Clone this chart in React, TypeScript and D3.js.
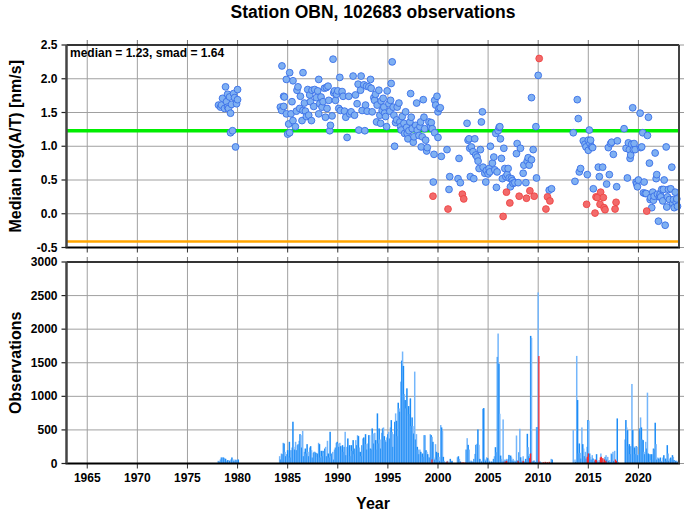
import React from "react";
import * as d3 from "d3";

// ---------- data ----------
const xTickYears = [1965, 1970, 1975, 1980, 1985, 1990, 1995, 2000, 2005, 2010, 2015, 2020];
const topTicks = [2.5, 2.0, 1.5, 1.0, 0.5, 0.0, -0.5];
const bottomTicks = [3000, 2500, 2000, 1500, 1000, 500, 0];
const medianValue = 1.23;
const smadValue = 1.64;
const lowerLine = medianValue - smadValue;

const blue1978: [number, number][] = [
  [1978.1, 1.61], [1978.3, 1.58], [1978.4, 1.61], [1978.5, 1.71], [1978.7, 1.56], [1978.8, 1.88],
  [1978.9, 1.66], [1979.0, 1.77], [1979.0, 1.58], [1979.1, 1.56], [1979.2, 1.73], [1979.3, 1.49],
  [1979.3, 1.2], [1979.4, 1.62], [1979.5, 1.23], [1979.6, 1.78], [1979.7, 1.72], [1979.8, 0.99],
  [1979.9, 1.63], [1980.0, 1.84], [1980.0, 1.69],
];

const blue1984: [number, number][] = [
  [1984.43, 2.19], [1984.87, 1.99], [1985.2, 2.09], [1985.53, 1.97], [1986.53, 2.09], [1988.1, 1.99],
  [1989.53, 2.29], [1984.6, 1.74], [1984.67, 1.73], [1984.27, 1.58], [1984.4, 1.53], [1984.6, 1.59],
  [1984.87, 1.48], [1985.1, 1.33], [1985.0, 1.18], [1985.2, 1.2], [1985.43, 1.66], [1985.33, 1.48],
  [1985.53, 1.38], [1985.77, 1.29], [1985.87, 1.52], [1985.93, 1.83], [1986.03, 1.88], [1986.2, 1.56],
  [1986.27, 1.74], [1986.43, 1.38], [1986.53, 1.53], [1986.67, 1.64], [1986.77, 1.52], [1986.87, 1.44],
  [1987.0, 1.84], [1987.1, 1.46], [1987.2, 1.76], [1987.27, 1.66], [1987.37, 1.38], [1987.43, 1.83],
  [1987.6, 1.59], [1987.7, 1.84], [1987.87, 1.72], [1988.0, 1.82], [1988.1, 1.48], [1988.2, 1.63],
  [1988.33, 1.73], [1988.43, 1.58], [1988.53, 1.66], [1988.67, 1.86], [1988.77, 1.43], [1988.87, 1.87],
  [1988.93, 1.56], [1989.03, 1.89], [1989.1, 1.68], [1989.2, 1.23], [1989.27, 1.31], [1989.43, 1.45],
  [1989.6, 1.79], [1989.67, 1.82], [1989.77, 1.68], [1989.87, 1.77], [1990.0, 1.82], [1990.1, 1.56],
  [1990.2, 2.02], [1990.27, 1.53], [1990.43, 1.81], [1990.53, 1.74], [1990.67, 1.52], [1990.8, 1.43],
  [1990.93, 1.13], [1991.1, 1.74], [1991.2, 1.48], [1991.33, 1.51], [1991.53, 2.04], [1991.67, 1.46],
  [1991.77, 1.76], [1991.93, 1.63], [1992.03, 1.92], [1992.1, 1.24], [1992.27, 1.83], [1992.33, 2.04],
  [1992.43, 1.53], [1992.6, 1.91], [1992.7, 1.23], [1992.77, 1.61], [1992.87, 1.89], [1992.93, 1.52],
];

const blue1993: [number, number][] = [
  [1993.1, 1.88], [1993.27, 1.99], [1993.33, 1.86], [1993.43, 1.51], [1993.6, 1.72], [1993.67, 1.68],
  [1993.77, 1.77], [1993.87, 1.36], [1993.93, 1.61], [1994.1, 1.83], [1994.2, 1.46], [1994.27, 1.34],
  [1994.33, 1.67], [1994.43, 1.53], [1994.53, 1.71], [1994.6, 1.58], [1994.67, 1.49], [1994.77, 1.44],
  [1994.87, 1.29], [1994.93, 1.82], [1995.1, 1.63], [1995.2, 1.52], [1995.27, 1.68], [1995.33, 1.93],
  [1995.43, 2.25], [1995.53, 1.58], [1995.6, 1.46], [1995.67, 1.0], [1995.77, 1.35], [1995.87, 1.39],
  [1995.93, 1.58], [1996.1, 1.64], [1996.2, 1.36], [1996.27, 1.29], [1996.33, 1.24], [1996.43, 1.44],
  [1996.6, 1.34], [1996.67, 1.19], [1996.77, 1.51], [1996.87, 1.28], [1996.93, 1.19], [1997.0, 1.11],
  [1997.1, 1.23], [1997.2, 1.36], [1997.27, 1.78], [1997.33, 1.43], [1997.43, 1.26], [1997.53, 1.06],
  [1997.6, 1.14], [1997.77, 1.31], [1997.87, 1.64], [1997.93, 1.24], [1998.1, 1.16], [1998.2, 1.29],
  [1998.27, 1.36], [1998.33, 0.99], [1998.43, 1.14], [1998.53, 1.69], [1998.6, 1.43], [1998.67, 1.26],
  [1998.77, 1.09], [1998.87, 0.93], [1998.93, 0.98], [1999.1, 1.36], [1999.27, 1.29], [1999.33, 1.35],
  [1999.43, 1.26], [1999.53, 0.47], [1999.6, 0.88], [1999.67, 1.68], [1999.77, 1.61], [1999.9, 1.74],
  [2000.0, 1.51], [2000.1, 1.56], [2000.23, 1.57], [1999.67, 1.2], [2000.0, 1.13], [2000.33, 0.85],
];

const blue2000: [number, number][] = [
  [2000.9, 0.95], [2001.1, 0.36], [2001.17, 0.55], [2002.0, 0.52], [2002.1, 0.82], [2002.23, 0.46],
  [2002.9, 1.34], [2003.0, 1.09], [2003.1, 1.11], [2003.17, 0.97], [2003.23, 0.55], [2003.33, 0.99],
  [2003.5, 0.92], [2003.57, 0.52], [2003.67, 1.11], [2003.77, 0.87], [2003.9, 0.84], [2004.0, 0.78],
  [2004.1, 0.67], [2004.23, 0.95], [2004.33, 1.36], [2004.43, 1.51], [2004.5, 0.69], [2004.67, 0.6],
  [2004.77, 0.47], [2004.83, 0.64], [2005.0, 0.59], [2005.1, 0.67], [2005.17, 0.62], [2005.23, 1.0],
  [2005.43, 0.75], [2005.57, 0.84], [2005.67, 0.65], [2005.77, 1.19], [2005.83, 0.39], [2005.9, 0.62],
  [2006.0, 1.23], [2006.1, 1.28], [2006.17, 1.29], [2006.23, 1.11], [2006.33, 0.82], [2006.43, 0.52],
  [2006.57, 0.97], [2006.67, 0.67], [2006.77, 0.55], [2006.9, 0.58], [2007.0, 0.67], [2007.1, 0.53],
  [2007.23, 0.4], [2007.33, 0.52], [2007.43, 0.49], [2007.5, 0.45], [2007.67, 0.46], [2007.83, 0.89],
  [2007.9, 1.04], [2008.0, 0.46], [2008.23, 0.97], [2008.5, 0.6], [2008.57, 0.72], [2008.77, 0.46],
  [2008.9, 0.78], [2009.0, 0.83], [2009.1, 0.72], [2009.33, 0.8], [2009.5, 0.95], [2009.77, 1.29],
  [2009.83, 0.53], [2010.0, 2.05], [2009.33, 1.72], [2011.1, 0.35], [2011.33, 0.37],
];

const blue2013: [number, number][] = [
  [2013.5, 1.2], [2013.67, 0.48], [2013.9, 1.69], [2014.0, 1.41], [2014.1, 0.62], [2014.23, 0.67],
  [2014.5, 1.08], [2014.67, 1.03], [2014.77, 0.99], [2014.9, 0.58], [2015.0, 1.09], [2015.0, 0.94],
  [2015.1, 1.24], [2015.17, 1.04], [2015.23, 1.09], [2015.33, 0.99], [2015.43, 0.98], [2015.5, 0.37],
  [2016.0, 0.69], [2016.1, 0.55], [2016.43, 0.69], [2016.83, 0.44], [2017.0, 0.98], [2017.1, 0.58],
  [2017.23, 1.04], [2017.33, 1.06], [2017.5, 0.88], [2017.83, 0.4], [2017.9, 1.08], [2018.57, 1.26],
  [2018.77, 0.97], [2018.9, 0.53], [2019.0, 1.05], [2019.1, 0.95], [2019.17, 0.82], [2019.23, 0.87],
  [2019.33, 1.03], [2019.43, 1.57], [2019.5, 0.95], [2019.57, 1.04], [2019.67, 0.95], [2019.77, 0.47],
  [2019.83, 0.44], [2019.9, 0.4], [2020.0, 0.5], [2020.17, 1.49], [2020.23, 0.98], [2020.33, 0.99],
  [2020.43, 1.2], [2020.5, 0.31], [2020.57, 0.47], [2020.67, 0.3], [2020.77, 0.3], [2020.9, 1.16],
  [2021.0, 1.43], [2021.1, 0.75], [2021.17, 0.21], [2021.23, 0.24], [2021.33, 0.09], [2021.43, 0.32],
  [2021.5, 0.2], [2021.57, 0.26], [2021.67, 0.9], [2021.77, 0.52], [2021.83, 0.58], [2021.9, 0.29],
  [2022.0, -0.11], [2022.1, 0.25], [2022.17, 0.29], [2022.23, 0.25], [2022.33, 0.36], [2022.43, 0.19],
  [2022.5, 0.36], [2022.57, 0.5], [2022.67, -0.17], [2022.77, 0.99], [2022.83, 0.1], [2022.9, 0.25],
  [2023.0, 0.36], [2023.1, 0.21], [2023.23, 0.37], [2023.33, 0.69], [2023.43, 0.15], [2023.5, 0.21],
  [2023.57, 0.09], [2023.67, 0.32], [2023.77, 0.17], [2023.83, 0.22], [2023.9, 0.11],
];

const redPoints: [number, number][] = [
  [1999.5, 0.26], [2001.0, 0.07], [2002.43, 0.29], [2002.57, 0.22], [2006.5, -0.04], [2006.83, 0.32],
  [2007.17, 0.16], [2008.1, 0.26], [2008.83, 0.23], [2009.17, 0.34], [2009.6, 0.26], [2010.1, 2.3],
  [2010.77, 0.07], [2010.93, 0.25], [2011.17, 0.19], [2014.83, 0.14], [2015.67, 0.01], [2015.77, 0.25],
  [2015.9, 0.24], [2016.17, 0.14], [2016.23, 0.32], [2016.5, 0.24], [2016.57, 0.09], [2016.67, 0.06],
  [2017.67, 0.07], [2017.77, 0.17], [2020.83, 0.04],
];

// observation counts: [firstYear, lastYear] spans, evenly spaced bins inside each span
const obs1978Span = [1978.07, 1980.07];
const obs1978 = [40, 30, 60, 90, 90, 90, 80, 70, 40, 50, 50, 40, 60, 90, 60, 40, 60, 50, 60, 60];

const obs1984Span = [1984.2, 1992.77];
const obs1984 = [
  109, 60, 149, 139, 308, 298, 174, 109, 139, 199, 109, 323, 89, 199, 238, 622, 248, 208, 323, 199,
  273, 288, 338, 437, 422, 238, 487, 109, 174, 223, 149, 288, 174, 109, 238, 258, 199, 89, 159, 174,
  174, 159, 99, 149, 308, 288, 89, 189, 109, 189, 159, 223, 248, 109, 338, 149, 89, 472, 109, 149,
  174, 59, 208, 238, 308, 323, 298, 248, 308, 258, 208, 273, 174, 248, 472, 124, 248, 373, 238, 273,
  109, 273, 189, 348, 139, 223, 348, 273, 422, 408, 238, 174, 109, 273, 373, 388, 348, 437,
];

const obs1993Span = [1992.83, 2001.4];
const obs1993 = [
  288, 208, 298, 422, 422, 223, 208, 522, 447, 298, 457, 348, 208, 746, 298, 522, 358, 223, 457, 522,
  537, 407, 348, 323, 388, 437, 472, 373, 537, 646, 472, 248, 437, 621, 746, 636, 407, 905, 820, 771,
  1219, 1532, 1667, 1453, 1034, 945, 820, 1119, 706, 855, 736, 970, 557, 686, 557, 447, 1368, 358, 437, 248,
  208, 139, 208, 174, 139, 149, 99, 422, 422, 198, 174, 139, 99, 89, 437, 422, 397, 323, 89, 59,
  288, 174, 59, 159, 99, 40, 572, 537, 487, 99, 40, 10, 25, 0, 40, 10, 0, 69, 25, 40,
];

const obs2002Span = [2001.94, 2005.93];
const obs2002 = [
  93, 108, 69, 30, 0, 0, 0, 0, 0, 208, 377, 278, 208, 30, 44, 30, 20, 69, 143, 278,
  293, 507, 278, 69, 44, 30, 815, 825, 69, 44, 93, 79, 59, 30, 10, 30, 20, 69, 108, 243,
  168, 1587,
];

const obs2006Span = [2006.0, 2010.0];
const obs2006 = [
  1935, 1487, 740, 118, 69, 30, 656, 30, 59, 44, 69, 44, 69, 128, 59, 118, 93, 44, 69, 30,
  44, 30, 417, 44, 30, 168, 517, 93, 44, 30, 108, 30, 20, 69, 30, 442, 243, 108, 143, 1900,
  1870, 30, 30, 44, 30, 20, 542, 542, 2547,
];

const obs2010Span = [2010.07, 2011.4];
const obs2010 = [20, 30, 20, 0, 0, 0, 0, 0, 0, 0, 0, 0, 69, 59];

const obs2013Span = [2013.5, 2024.0];
const obs2013 = [
  497, 0, 59, 24, 1602, 945, 149, 298, 159, 74, 537, 288, 223, 109, 174, 74, 248, 647, 637, 149,
  99, 59, 124, 74, 59, 40, 40, 139, 40, 24, 50, 24, 149, 40, 74, 24, 59, 99, 124, 59,
  99, 40, 50, 24, 149, 139, 174, 40, 189, 24, 10, 671, 24, 0, 0, 0, 0, 0, 0, 0,
  358, 647, 537, 497, 258, 288, 139, 258, 1184, 497, 258, 238, 139, 258, 248, 124, 139, 522, 686, 537,
  358, 348, 174, 139, 323, 223, 1055, 149, 24, 139, 50, 139, 59, 223, 209, 607, 288, 59, 89, 74,
  59, 89, 40, 24, 89, 124, 50, 74, 40, 273, 149, 40, 74, 89, 59, 124, 99, 50, 40, 40,
  40, 24, 24,
];

const redObs: [number, number][] = [
  [1999.4, 60], [2000.9, 30], [2002.3, 15], [2002.5, 20], [2002.7, 15], [2006.7, 30], [2006.85, 40],
  [2008.0, 40], [2008.5, 40], [2009.15, 80], [2009.25, 150], [2010.07, 1600], [2010.5, 20], [2010.7, 25],
  [2010.9, 20], [2011.1, 25], [2014.9, 100], [2015.0, 150], [2015.7, 60], [2015.8, 50], [2016.2, 90],
  [2016.3, 100], [2016.45, 80], [2016.6, 60], [2016.75, 40], [2017.7, 60], [2017.8, 40],
];

// ---------- layout ----------
const W = 685;
const H = 511;
const left = 66.5;
const right = 679;
const topY0 = 45;
const topY1 = 247.5;
const botY0 = 262;
const botY1 = 463.5;
const FONT = "'Liberation Sans', Arial, Helvetica, sans-serif";

const x = d3.scaleLinear().domain([1962.93, 2024.05]).range([left, right]);
const yTop = d3.scaleLinear().domain([-0.5, 2.5]).range([topY1, topY0]);
const yBot = d3.scaleLinear().domain([0, 3000]).range([botY1, botY0]);

function segBins(span: number[], values: number[]) {
  const n = values.length;
  const step = (span[1] - span[0]) / (n - 1);
  return values.map((v, i) => ({ year: span[0] + i * step, v, i }));
}

const allBins = [
  ...segBins(obs1978Span, obs1978),
  ...segBins(obs1984Span, obs1984),
  ...segBins(obs1993Span, obs1993),
  ...segBins(obs2002Span, obs2002),
  ...segBins(obs2006Span, obs2006),
  ...segBins(obs2010Span, obs2010),
  ...segBins(obs2013Span, obs2013),
];

const allBlue = [...blue1978, ...blue1984, ...blue1993, ...blue2000, ...blue2013];

function Panel({ y0, y1, yScale, ticks, fmt }: any) {
  return (
    <g>
      {xTickYears.map((t) => (
        <line key={"gx" + t} x1={x(t)} x2={x(t)} y1={y0} y2={y1} stroke="#a0a0a0" strokeWidth={1} />
      ))}
      {ticks.map((t: number) => (
        <line key={"gy" + t} x1={left} x2={right} y1={yScale(t)} y2={yScale(t)} stroke="#a0a0a0" strokeWidth={1} />
      ))}
      {xTickYears.map((t) => (
        <g key={"tx" + t}>
          <line x1={x(t)} x2={x(t)} y1={y0 - 5} y2={y0} stroke="#777" strokeWidth={1} />
          <line x1={x(t)} x2={x(t)} y1={y1} y2={y1 + 5} stroke="#333" strokeWidth={1} />
        </g>
      ))}
      {ticks.map((t: number) => (
        <g key={"ty" + t}>
          <line x1={left - 5} x2={left} y1={yScale(t)} y2={yScale(t)} stroke="#222" strokeWidth={1.2} />
          <line x1={right} x2={right + 5} y1={yScale(t)} y2={yScale(t)} stroke="#999" strokeWidth={1} />
          <text
            x={left - 9}
            y={yScale(t)}
            textAnchor="end"
            dominantBaseline="central"
            fontFamily={FONT}
            fontWeight="bold"
            fontSize={12}
          >
            {fmt(t)}
          </text>
        </g>
      ))}
    </g>
  );
}

function Frame({ y0, y1 }: any) {
  return (
    <g>
      <line x1={left} x2={right} y1={y0} y2={y0} stroke="#000" strokeWidth={1.5} />
      <line x1={left - 1} x2={right + 1} y1={y1} y2={y1} stroke="#000" strokeWidth={2} />
      <line x1={left} x2={left} y1={y0} y2={y1} stroke="#444" strokeWidth={2.5} />
      <line x1={right} x2={right} y1={y0} y2={y1} stroke="#444" strokeWidth={2} />
    </g>
  );
}

export default function App() {
  const barW = 1.5;
  return (
    <svg
      width={W}
      height={H}
      style={{ position: "absolute", left: 0, top: 0, background: "#fff" }}
      xmlns="http://www.w3.org/2000/svg"
    >
      <rect x={0} y={0} width={W} height={H} fill="#fff" />
      <text x={373} y={18} textAnchor="middle" fontFamily={FONT} fontWeight="bold" fontSize={17.5}>
        Station OBN, 102683 observations
      </text>

      {/* top panel */}
      <Panel y0={topY0} y1={topY1} yScale={yTop} ticks={topTicks} fmt={(t: number) => d3.format(".1f")(t).replace("−", "-")} />
      <line x1={left} x2={right} y1={yTop(medianValue)} y2={yTop(medianValue)} stroke="#00ee00" strokeWidth={3.5} />
      <line x1={left} x2={right} y1={yTop(lowerLine)} y2={yTop(lowerLine)} stroke="#ffa500" strokeWidth={2.5} />
      {allBlue.map((p, i) => (
        <circle key={"b" + i} cx={x(p[0])} cy={yTop(p[1])} r={3.4} fill="#7fb0f2" stroke="#3a6fe8" strokeWidth={0.9} />
      ))}
      {redPoints.map((p, i) => (
        <circle key={"r" + i} cx={x(p[0])} cy={yTop(p[1])} r={3.4} fill="#f26a6a" stroke="#ee4444" strokeWidth={0.9} />
      ))}
      <Frame y0={topY0} y1={topY1} />
      <text x={70} y={57} fontFamily={FONT} fontWeight="bold" fontSize={12}>
        median = {medianValue.toFixed(2)}, smad = {smadValue.toFixed(2)}
      </text>

      {/* bottom panel */}
      <Panel y0={botY0} y1={botY1} yScale={yBot} ticks={bottomTicks} fmt={(t: number) => String(t)} />
      {allBins.map((b, k) =>
        b.v > 0 ? (
          <rect
            key={"o" + k}
            x={x(b.year) - barW / 2}
            y={yBot(b.v)}
            width={barW}
            height={botY1 - yBot(b.v)}
            fill={b.i % 2 === 0 ? "#74b6fb" : "#1c8cf6"}
          />
        ) : null
      )}
      {redObs.map((b, k) => (
        <rect key={"ro" + k} x={x(b[0]) - 0.6} y={yBot(b[1])} width={1.2} height={botY1 - yBot(b[1])} fill="#ff2020" />
      ))}
      <Frame y0={botY0} y1={botY1} />

      {/* x labels */}
      {xTickYears.map((t) => (
        <text key={"xl" + t} x={x(t)} y={482} textAnchor="middle" fontFamily={FONT} fontWeight="bold" fontSize={12}>
          {t}
        </text>
      ))}
      <text x={373} y={509} textAnchor="middle" fontFamily={FONT} fontWeight="bold" fontSize={16}>
        Year
      </text>
      <text
        transform={`translate(21, ${(topY0 + topY1) / 2}) rotate(-90)`}
        textAnchor="middle"
        fontFamily={FONT}
        fontWeight="bold"
        fontSize={16}
      >
        Median log(A/T) [nm/s]
      </text>
      <text
        transform={`translate(21, ${(botY0 + botY1) / 2}) rotate(-90)`}
        textAnchor="middle"
        fontFamily={FONT}
        fontWeight="bold"
        fontSize={16}
      >
        Observations
      </text>
    </svg>
  );
}
